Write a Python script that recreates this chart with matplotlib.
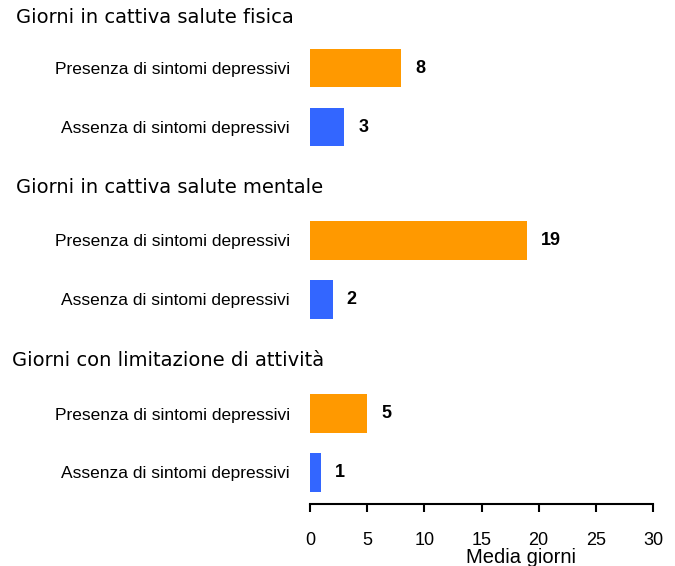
import matplotlib.pyplot as plt
from matplotlib.transforms import blended_transform_factory

# data
groups = ['Giorni in cattiva salute fisica',
          'Giorni in cattiva salute mentale',
          'Giorni con limitazione di attività']
categories = ['Presenza di sintomi depressivi', 'Assenza di sintomi depressivi']
values = [[8, 3], [19, 2], [5, 1]]
xticks = [0, 5, 10, 15, 20, 25, 30]

# layout
bar_pos = [[0, 1], [2.92, 3.92], [5.86, 6.85]]
head_pos = [-0.85, 2.02, 4.95]
head_x = [16, 16, 12]
colors = ['#FF9900', '#3366FF']

plt.rcParams['font.family'] = ['Liberation Sans', 'DejaVu Sans']

fig = plt.figure(figsize=(6.75, 5.66), dpi=100)
ax = fig.add_axes([310 / 675, (566 - 504) / 566, (653 - 310) / 675, 504 / 566])

ytick_pos = []
ytick_lab = []
for g in range(len(groups)):
    for c in range(len(categories)):
        y = bar_pos[g][c]
        ax.barh(y, values[g][c], height=0.66, color=colors[c])
        ax.annotate(str(values[g][c]), xy=(values[g][c], y), xytext=(10, 0),
                    textcoords='offset points', va='center', ha='left',
                    fontsize=13, fontweight='bold')
        ytick_pos.append(y)
        ytick_lab.append(categories[c])

trans = blended_transform_factory(fig.transFigure, ax.transData)
for g in range(len(groups)):
    ax.text(head_x[g] / 675, head_pos[g], groups[g], transform=trans,
            fontsize=14, family='DejaVu Sans', va='center', ha='left', clip_on=False)

ax.set_xlim(0, 30)
ax.set_ylim(7.39, -1.153)
ax.set_xticks(xticks)
ax.set_yticks(ytick_pos, ytick_lab)
ax.tick_params(axis='y', left=False, pad=11, labelsize=12.5)
ax.tick_params(axis='x', direction='out', length=6, width=1.5, pad=14, labelsize=13)
for s in ['top', 'right', 'left']:
    ax.spines[s].set_visible(False)
ax.spines['bottom'].set_linewidth(1.5)
ax.set_xlabel('Media giorni', fontsize=14.5)
ax.xaxis.set_label_coords(0.615, -0.088)

plt.savefig('out.png', dpi=100)
